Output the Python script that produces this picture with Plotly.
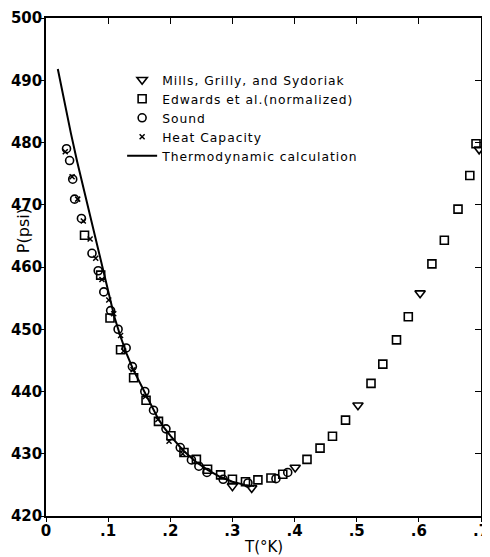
import plotly.graph_objects as go

# Mills, Grilly, and Sydoriak (open down-triangles)
mills_T = [0.300, 0.331, 0.401, 0.502, 0.602, 0.697]
mills_P = [424.8, 424.5, 427.8, 437.8, 455.8, 478.9]

# Edwards et al. (normalized) (open squares)
edw_T = [0.062, 0.088, 0.103, 0.120, 0.141, 0.161, 0.181, 0.201, 0.222, 0.242,
         0.260, 0.281, 0.300, 0.321, 0.341, 0.362, 0.381, 0.420, 0.441, 0.461,
         0.482, 0.523, 0.542, 0.564, 0.583, 0.621, 0.641, 0.663, 0.682, 0.692]
edw_P = [465.1, 458.7, 451.8, 446.7, 442.2, 438.6, 435.2, 432.9, 430.2, 429.1,
         427.5, 426.6, 425.9, 425.5, 425.8, 426.1, 426.7, 429.1, 430.9, 432.8,
         435.4, 441.3, 444.4, 448.3, 452.0, 460.5, 464.3, 469.3, 474.7, 479.8]

# Sound (open circles)
snd_T = [0.033, 0.038, 0.043, 0.046, 0.057, 0.074, 0.084, 0.093, 0.104, 0.116,
         0.129, 0.139, 0.159, 0.173, 0.193, 0.216, 0.234, 0.246, 0.259, 0.285,
         0.325, 0.370, 0.389]
snd_P = [479.0, 477.1, 474.1, 470.9, 467.8, 462.2, 459.4, 456.0, 453.0, 450.0,
         447.0, 444.0, 440.0, 437.0, 434.0, 431.0, 429.0, 428.0, 427.0, 425.9,
         425.3, 426.0, 427.0]

# Heat Capacity (x)
hc_T = [0.031, 0.042, 0.051, 0.060, 0.071, 0.080, 0.090, 0.101, 0.109, 0.120,
        0.125, 0.140, 0.160, 0.180, 0.198, 0.220]
hc_P = [478.5, 474.5, 470.9, 467.4, 464.5, 461.4, 458.0, 454.7, 452.5, 449.0,
        446.5, 443.5, 439.2, 435.5, 432.0, 430.0]

# Thermodynamic calculation (solid line)
th_T = [0.019, 0.03, 0.04, 0.05, 0.06, 0.07, 0.08, 0.09, 0.10, 0.11, 0.12, 0.13,
        0.14, 0.15, 0.16, 0.17, 0.18, 0.19, 0.20, 0.22, 0.24, 0.26, 0.28, 0.30,
        0.32, 0.335]
th_P = [491.8, 486.3, 481.5, 477.0, 472.8, 468.8, 464.6, 460.3, 455.8, 452.0,
        448.8, 446.0, 443.6, 441.6, 439.6, 437.5, 435.7, 434.2, 432.9, 430.6,
        428.8, 427.4, 426.3, 425.5, 425.0, 424.8]

x_tickvals = [0, 0.1, 0.2, 0.3, 0.4, 0.5, 0.6, 0.7]
x_ticktext = ["0", ".1", ".2", ".3", ".4", ".5", ".6", ".7"]
y_tickvals = [420, 430, 440, 450, 460, 470, 480, 490, 500]

series_names = ["Mills, Grilly, and Sydoriak", "Edwards et al.(normalized)",
                "Sound", "Heat Capacity", "Thermodynamic calculation"]

FONT = "DejaVu Sans"
mk_line = dict(color="black", width=1.6)


def spaced(s):
    return '<span style="letter-spacing:1px">' + s + '</span>'


fig = go.Figure()
fig.add_trace(go.Scatter(x=mills_T, y=mills_P, mode="markers", name=spaced(series_names[0]),
                         marker=dict(symbol="triangle-down-open", size=9, color="black", line=mk_line)))
fig.add_trace(go.Scatter(x=edw_T, y=edw_P, mode="markers", name=spaced(series_names[1]),
                         marker=dict(symbol="square-open", size=8, color="black", line=mk_line)))
fig.add_trace(go.Scatter(x=snd_T, y=snd_P, mode="markers", name=spaced(series_names[2]),
                         marker=dict(symbol="circle-open", size=8, color="black", line=mk_line)))
fig.add_trace(go.Scatter(x=hc_T, y=hc_P, mode="markers", name=spaced(series_names[3]),
                         marker=dict(symbol="x-thin-open", size=5, color="black",
                                     line=dict(color="black", width=1.5))))
fig.add_trace(go.Scatter(x=th_T, y=th_P, mode="lines", name=spaced(series_names[4]),
                         line=dict(color="black", width=2)))
# helper (empty) trace for the mirrored top/right axes
fig.add_trace(go.Scatter(x=[], y=[], xaxis="x2", yaxis="y2", showlegend=False, hoverinfo="skip"))

# The page body has an 8px default margin, so the figure is 8px smaller.
fig.update_layout(
    width=482, height=549,
    margin=dict(l=38, r=1, t=8, b=41),
    paper_bgcolor="white", plot_bgcolor="white",
    font=dict(family=FONT, color="black"),
    showlegend=True,
    legend=dict(x=0.175, y=0.905, xanchor="left", yanchor="top",
                bgcolor="rgba(0,0,0,0)", borderwidth=0,
                font=dict(family=FONT, size=12.3, color="black"),
                tracegroupgap=0, itemwidth=30),
    xaxis=dict(range=[0, 0.7], tickvals=x_tickvals, ticktext=x_ticktext,
               showgrid=False, zeroline=False, showline=True, linecolor="black", linewidth=1.5,
               ticks="outside", ticklen=4, tickwidth=1.3, tickcolor="black",
               ticklabelstandoff=-4, ticklabeloverflow="allow",
               tickfont=dict(family=FONT, size=15, color="black", weight="bold")),
    yaxis=dict(range=[420, 500], tickvals=y_tickvals,
               showgrid=False, zeroline=False, showline=True, linecolor="black", linewidth=1.5,
               ticks="outside", ticklen=4, tickwidth=1.3, tickcolor="black",
               ticklabelstandoff=-5, ticklabeloverflow="allow",
               tickfont=dict(family=FONT, size=15, color="black", weight="bold")),
    xaxis2=dict(range=[0, 0.7], tickvals=x_tickvals, overlaying="x", side="top",
                showticklabels=False, showgrid=False, zeroline=False, showline=True,
                linecolor="black", linewidth=1.5, ticks="inside", ticklen=6,
                tickwidth=1.3, tickcolor="black"),
    yaxis2=dict(range=[420, 500], tickvals=y_tickvals, overlaying="y", side="right",
                showticklabels=False, showgrid=False, zeroline=False, showline=True,
                linecolor="black", linewidth=1.5, ticks="inside", ticklen=6,
                tickwidth=1.3, tickcolor="black"),
    annotations=[
        dict(text="T(°K)", xref="paper", yref="paper", x=0.5, y=0, yshift=-31,
             xanchor="center", yanchor="middle", showarrow=False,
             font=dict(family=FONT, size=15, color="black")),
        dict(text="P(psi)", xref="paper", yref="paper", x=0, xshift=-23, y=0.572,
             xanchor="center", yanchor="middle", textangle=-90, showarrow=False,
             font=dict(family=FONT, size=16, color="black")),
    ],
)

fig.write_html("out.html")
